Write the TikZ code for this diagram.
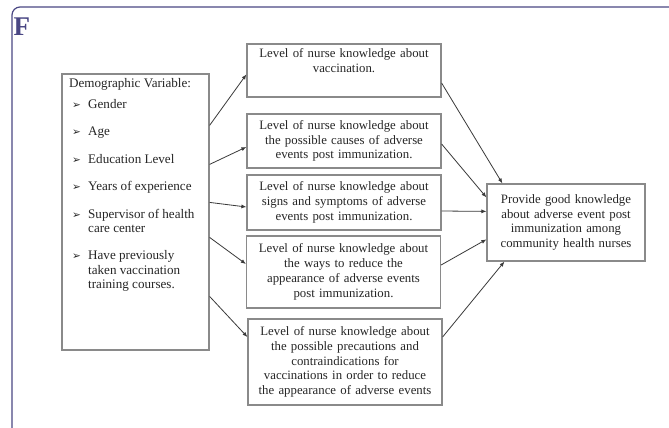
\documentclass[tikz,border=0pt]{standalone}
\usepackage{fontspec}
\setmainfont{Liberation Serif}
\newfontfamily\symfont{DejaVu Sans}
\usetikzlibrary{arrows.meta}
\definecolor{framec}{HTML}{4A4784}
\definecolor{boxc}{HTML}{8A8A8A}
\definecolor{txtc}{HTML}{262626}
\definecolor{arrc}{HTML}{3A3A3A}
\newcommand{\bul}{\hspace*{3pt}\makebox[16pt][l]{\symfont\fontsize{10.5}{10}\selectfont ➢}}
\newcommand{\ind}{\hspace*{19pt}}
\tikzset{
  box/.style={draw=boxc, line width=1.2pt, rectangle, inner sep=0pt, align=center},
  txt/.style={text=txtc, font=\fontsize{12.8}{14.8}\selectfont, align=center, inner sep=0pt},
  conn/.style={draw=arrc, line width=0.8pt, -{Latex[length=5pt,width=4pt]}},
  framel/.style={draw=framec, line width=1.2pt, rounded corners=8pt}
}
\begin{document}
\begin{tikzpicture}[x=1pt,y=-1pt]
\useasboundingbox[fill=white] (0,0) rectangle (669,428);
\draw[framel] (12,430) |- (671,7);
\node[text=framec, font=\fontsize{27}{27}\selectfont\bfseries, anchor=base west, inner sep=0pt] (F) at (13.5,35.5) {F};

% demographic box
\node[box, minimum width=147pt, minimum height=276pt] (demo) at (135.5,212) {};
\node[txt, align=left, anchor=north west, font=\fontsize{13.1}{14.8}\selectfont] (demot) at (69,78) {%
Demographic Variable:\\[6pt]
\bul Gender\\[12.5pt]
\bul Age\\[13pt]
\bul Education Level\\[13pt]
\bul Years of experience\\[13pt]
\bul Supervisor of health\\[-1pt]
\ind care center\\[12.5pt]
\bul Have previously\\[-0.5pt]
\ind taken vaccination\\[-0.5pt]
\ind training courses.};

% middle boxes
\node[box, minimum width=194pt, minimum height=53pt] (b1) at (344,70.5) {};
\node[txt, text width=190pt, anchor=north] (b1t) at (344,48.5) {Level of nurse knowledge about\\vaccination.};
\node[box, txt, text width=194pt, minimum height=54pt] (b2) at (344,141) {Level of nurse knowledge about\\the possible causes of adverse\\events post immunization.};
\node[box, txt, text width=194pt, minimum height=55pt] (b3) at (344,202.5) {Level of nurse knowledge about\\signs and symptoms of adverse\\events post immunization.};
\node[box, txt, text width=194pt, minimum height=72pt] (b4) at (343.5,272) {Level of nurse knowledge about\\the ways to reduce the\\appearance of adverse events\\post immunization.};
\node[box, txt, text width=194pt, minimum height=86pt] (b5) at (345,362) {Level of nurse knowledge about\\the possible precautions and\\contraindications for\\vaccinations in order to reduce\\the appearance of adverse events\\[4pt]};

% right box
\node[box, txt, text width=158pt, minimum height=77pt] (rb) at (566,222.5) {Provide good knowledge\\about adverse event post\\immunization among\\community health nurses\\[6pt]};

% connectors from demographic box
\draw[conn] ([yshift=-52pt]demo.north east) -- ([yshift=-31pt]b1.north west);
\draw[conn] ([yshift=-91pt]demo.north east) -- ([yshift=-6pt]b2.west);
\draw[conn] ([yshift=-129pt]demo.north east) -- ([yshift=-4.5pt]b3.west);
\draw[conn] ([yshift=-164pt]demo.north east) -- ([yshift=8pt]b4.west);
\draw[conn] ([yshift=-223pt]demo.north east) -- ([yshift=25pt]b5.west);

% connectors to right box
\draw[conn] ([yshift=-12.5pt]b1.east) -- ([xshift=16pt]rb.north west);
\draw[conn] ([yshift=-3pt]b2.east) -- ([yshift=-14pt]rb.north west);
\draw[conn] ([yshift=-8.5pt]b3.east) -- ([yshift=-28pt]rb.north west);
\draw[conn] ([yshift=7pt]b4.east) -- ([yshift=-56pt]rb.north west);
\draw[conn] ([yshift=25pt]b5.east) -- ([xshift=18pt]rb.south west);
\end{tikzpicture}
\end{document}
